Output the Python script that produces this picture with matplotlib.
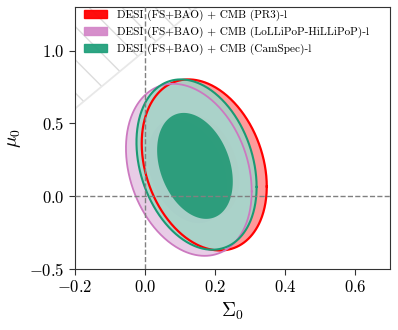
import numpy as np
import matplotlib
matplotlib.use("Agg")
import matplotlib.pyplot as plt
from matplotlib.patches import Polygon, Patch

plt.rcParams['font.family'] = 'serif'
plt.rcParams['font.serif'] = ['cmr10']
plt.rcParams['mathtext.fontset'] = 'cm'
plt.rcParams['axes.formatter.use_mathtext'] = True
plt.rcParams['axes.unicode_minus'] = True

# ---- data: contour extents (Sigma0, mu0) ----
labels = ["DESI (FS+BAO) + CMB (PR3)-l",
          "DESI (FS+BAO) + CMB (LoLLiPoP-HiLLiPoP)-l",
          "DESI (FS+BAO) + CMB (CamSpec)-l"]
line_colors = ["#FF0000", "#CC79C0", "#1A9A74"]
fill95_colors = ["#FF9A9A", "#E5C4E2", "#A0D6C7"]
fill68_colors = ["#FF5A5A", "#D6A6CF", "#18956F"]
legend_colors = ["#FF0000", "#D488C9", "#22A07C"]

# 95% contours
s95_left = [-0.009, -0.054, -0.024]
s95_right = [0.348, 0.305, 0.319]
m95_top = [0.802, 0.772, 0.802]
m95_bottom = [-0.373, -0.410, -0.368]
s95_at_top = [0.108, 0.070, 0.098]
s95_at_bottom = [0.198, 0.160, 0.188]
# 68% contours
s68_left = [0.060, 0.008, 0.035]
s68_right = [0.270, 0.235, 0.251]
m68_top = [0.560, 0.530, 0.572]
m68_bottom = [-0.140, -0.185, -0.156]
s68_at_top = [0.145, 0.090, 0.118]
s68_at_bottom = [0.205, 0.155, 0.182]

xticks = [-0.2, 0.0, 0.2, 0.4, 0.6]
yticks = [-0.5, 0.0, 0.5, 1.0]


def contour_shape(left, right, top, bottom, x_top, x_bot, n=400):
    cx, cy = 0.5 * (left + right), 0.5 * (top + bottom)
    hx, hy = 0.5 * (right - left), 0.5 * (top - bottom)
    rho = -(x_bot - x_top) / (2 * hx)
    t = np.linspace(0, 2 * np.pi, n)
    x = cx + hx * np.cos(t)
    y = cy + hy * (rho * np.cos(t) + np.sqrt(1 - rho**2) * np.sin(t))
    return x, y


fig = plt.figure(figsize=(3.98, 3.30), dpi=100)
ax = fig.add_axes([0.188, 0.185, 0.792, 0.794])
ax.set_xlim(-0.2, 0.7)
ax.set_ylim(-0.5, 1.3)

# excluded hatched region: mu0 > 1 + 2 Sigma0
xs = np.array([-0.2, 0.15])
region = Polygon([[-0.2, 1 + 2 * (-0.2)], [0.15, 1.3], [-0.2, 1.3]],
                 closed=True, facecolor='none', edgecolor='none', zorder=0)
ax.add_patch(region)
slope = -(350 / 144.67)
for c in np.arange(0.0, 2.6, 0.228):
    ln, = ax.plot([-0.2, 0.7], [c + slope * (-0.2), c + slope * 0.7],
                  color='#dcdcdc', lw=1.0, zorder=0)
    ln.set_clip_path(region)
ax.plot(xs, 1 + 2 * xs, color='#e8e8e8', lw=1.3, zorder=0)

for i in range(3):
    a = 1.0 if i == 0 else 0.85
    x2, y2 = contour_shape(s95_left[i], s95_right[i], m95_top[i], m95_bottom[i],
                           s95_at_top[i], s95_at_bottom[i])
    x1, y1 = contour_shape(s68_left[i], s68_right[i], m68_top[i], m68_bottom[i],
                           s68_at_top[i], s68_at_bottom[i])
    ax.fill(x2, y2, color=fill95_colors[i], alpha=a, lw=0, zorder=2 + i)
    ax.fill(x1, y1, color=fill68_colors[i], alpha=a, lw=0, zorder=2 + i)
lws = [1.6, 1.3, 1.5]
for i in range(3):
    x2, y2 = contour_shape(s95_left[i], s95_right[i], m95_top[i], m95_bottom[i],
                           s95_at_top[i], s95_at_bottom[i])
    ax.plot(x2, y2, color=line_colors[i], lw=lws[i], zorder=6 + i)

ax.axvline(0, color='gray', ls='--', lw=1, zorder=9)
ax.axhline(0, color='gray', ls='--', lw=1, zorder=9)

ax.set_xticks(xticks)
ax.set_yticks(yticks)
ax.tick_params(labelsize=12, color='#333333', direction='out', length=4)
for s in ax.spines.values():
    s.set_color('#333333')
ax.set_xlabel(r'$\Sigma_0$', fontsize=14)
ax.set_ylabel(r'$\mu_0$', fontsize=14)

handles = [Patch(facecolor=c, edgecolor=c, alpha=0.95) for c in legend_colors]
ax.legend(handles, labels, loc='upper left', bbox_to_anchor=(0.03, 0.99),
          frameon=False, fontsize=8.1, handlelength=2.0, handleheight=0.8,
          handletextpad=0.9, borderaxespad=0.0, borderpad=0.0, labelspacing=0.5)

fig.savefig('out.png', dpi=100)
